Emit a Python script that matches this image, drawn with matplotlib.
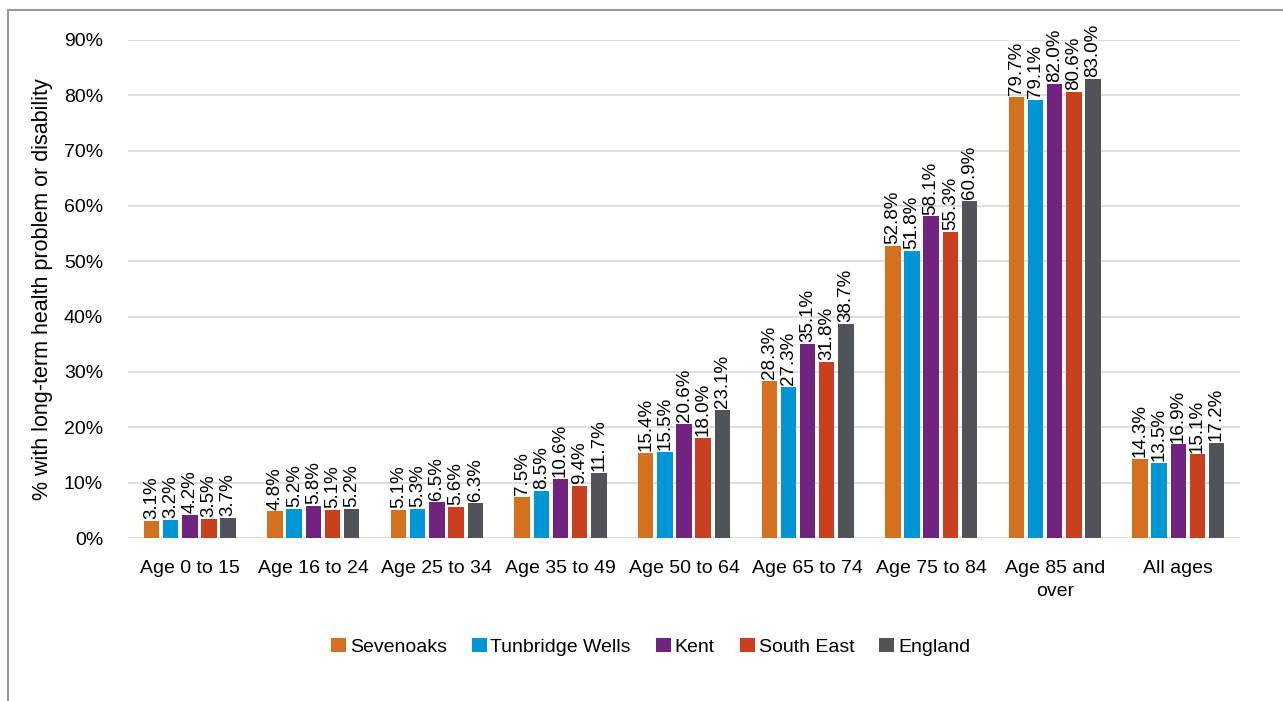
import matplotlib.pyplot as plt
import numpy as np

plt.rcParams['font.family'] = ['Liberation Sans', 'DejaVu Sans']

categories = ["Age 0 to 15", "Age 16 to 24", "Age 25 to 34", "Age 35 to 49",
              "Age 50 to 64", "Age 65 to 74", "Age 75 to 84", "Age 85 and\nover",
              "All ages"]

sevenoaks = [3.1, 4.8, 5.1, 7.5, 15.4, 28.3, 52.8, 79.7, 14.3]
tunbridge = [3.2, 5.2, 5.3, 8.5, 15.5, 27.3, 51.8, 79.1, 13.5]
kent = [4.2, 5.8, 6.5, 10.6, 20.6, 35.1, 58.1, 82.0, 16.9]
south_east = [3.5, 5.1, 5.6, 9.4, 18.0, 31.8, 55.3, 80.6, 15.1]
england = [3.7, 5.2, 6.3, 11.7, 23.1, 38.7, 60.9, 83.0, 17.2]

series = [
    ("Sevenoaks", sevenoaks, "#D4711F"),
    ("Tunbridge Wells", tunbridge, "#0096D6"),
    ("Kent", kent, "#70247F"),
    ("South East", south_east, "#C8401E"),
    ("England", england, "#505458"),
]

fig = plt.figure(figsize=(12.83, 7.01), dpi=100)
ax = fig.add_axes([0.0998, 0.2325, 0.8667, 0.7105])

x = np.arange(len(categories))
slot = 0.155
width = 0.125
for i, (name, vals, col) in enumerate(series):
    pos = x + (i - 2) * slot
    ax.bar(pos, vals, width=width, color=col, label=name, zorder=3)
    for p, v in zip(pos, vals):
        ax.text(p, v + 0.35, f"{v:.1f}%", rotation=90, ha="center", va="bottom",
                fontsize=13.5, clip_on=False)

ax.set_xlim(-0.5, len(categories) - 0.5)
ax.set_ylim(0, 90)
ax.set_yticks(range(0, 91, 10))
ax.set_yticklabels([f"{t}%" for t in range(0, 91, 10)], fontsize=14)
ax.set_xticks(x)
ax.set_xticklabels(categories, fontsize=14, linespacing=1.45)
ax.tick_params(axis="x", length=0, pad=16)
ax.tick_params(axis="y", length=0, pad=18)
ax.grid(axis="y", color="#D9D9D9", linewidth=1.2, zorder=0)
for s in ax.spines.values():
    s.set_visible(False)
ax.set_ylabel("% with long-term health problem or disability", fontsize=15.5, labelpad=8)

ax.legend(loc="upper center", bbox_to_anchor=(0.47, -0.165), ncol=5, frameon=False,
          fontsize=14, handlelength=0.75, handleheight=0.75, columnspacing=1.3,
          handletextpad=0.2)

# outer border (left and top)
fig.add_artist(plt.Line2D([8 / 1283, 8 / 1283], [0, 1 - 10 / 701], color="#999999", lw=1.5))
fig.add_artist(plt.Line2D([8 / 1283, 1], [1 - 10 / 701, 1 - 10 / 701], color="#999999", lw=1.5))

fig.savefig("out.png", dpi=100)
